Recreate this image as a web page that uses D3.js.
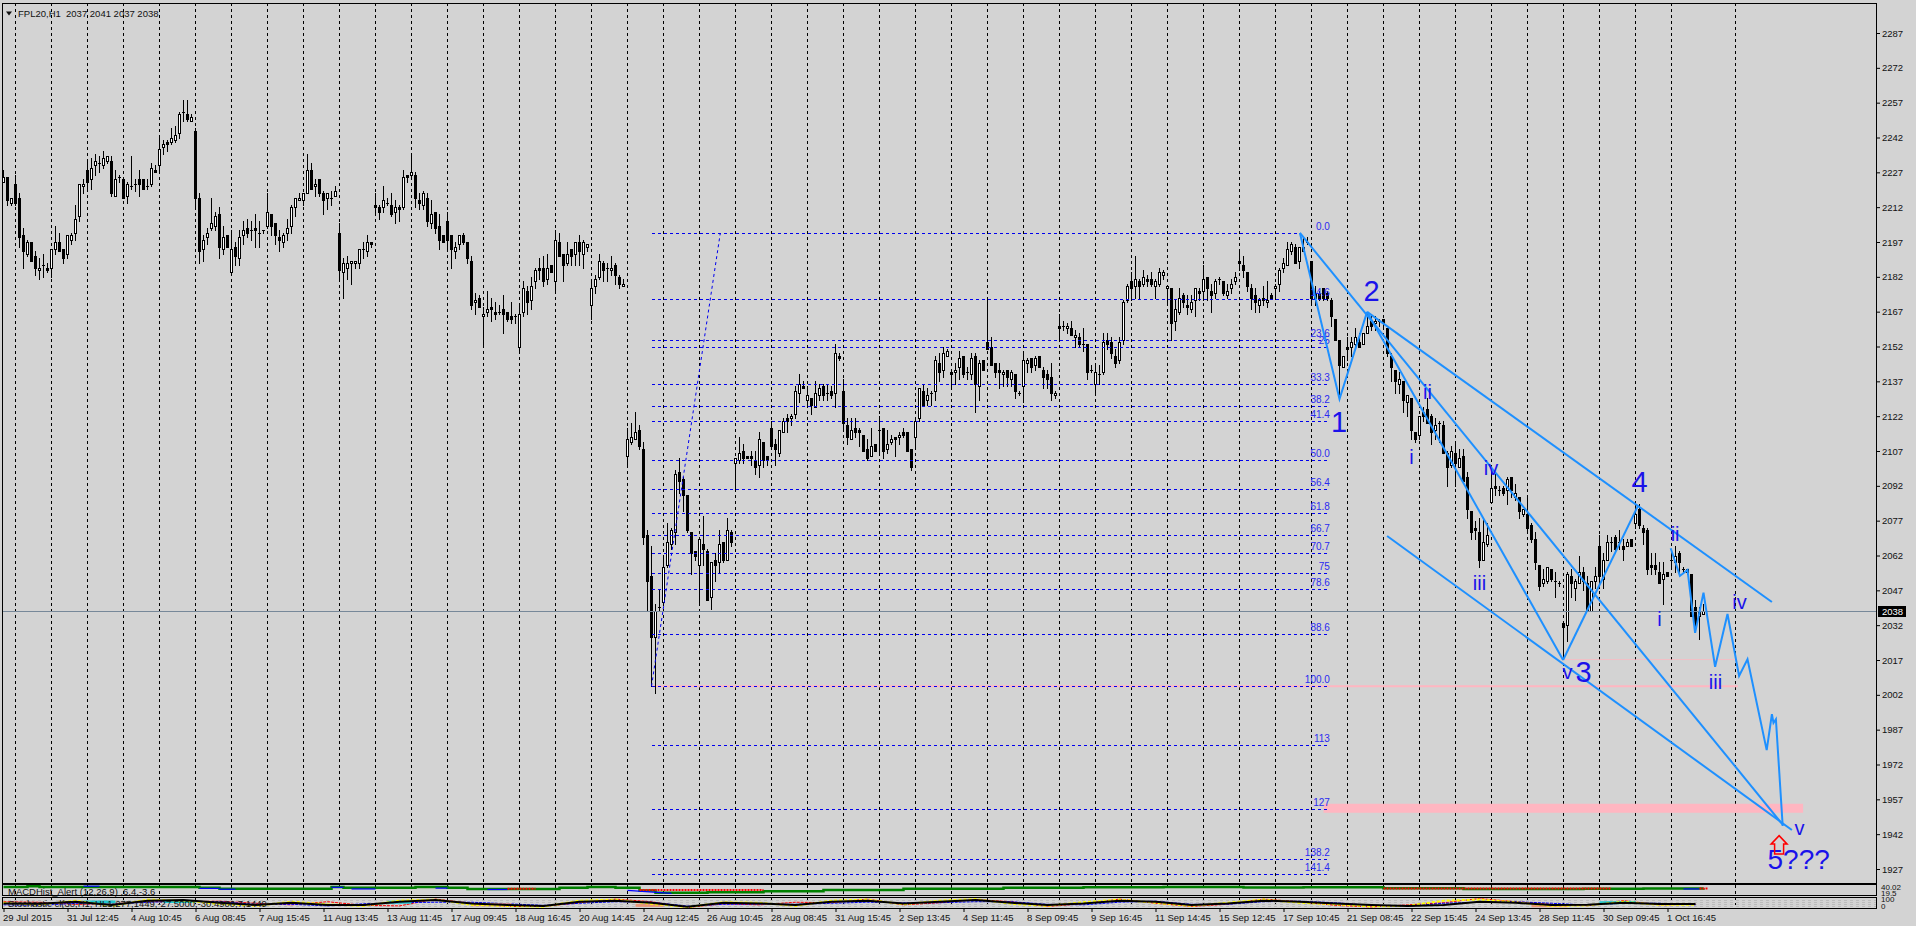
<!DOCTYPE html>
<html><head><meta charset="utf-8"><title>FPL20,H1</title>
<script src="https://cdn.jsdelivr.net/npm/d3@7"></script>
<style>
html,body{margin:0;padding:0;background:#d3d3d3;overflow:hidden}
svg{display:block}
text{font-family:"Liberation Sans",Arial,sans-serif}
</style></head><body><div id="chart"></div>
<script>
const opens=[2223,2225,2214,2222,2216,2200,2192,2197,2191,2185,
2187,2186,2186,2194,2197,2194,2192,2198,2201,2208,
2221,2228,2224,2230,2231,2230,2232,2232,2217,2225,
2224,2217,2221,2222,2224,2224,2221,2222,2228,2230,
2238,2240,2240,2241,2244,2253,2252,2249,2245,2216,
2194,2199,2203,2204,2209,2194,2200,2184,2195,2190,
2200,2203,2202,2203,2201,2202,2204,2209,2205,2199,
2197,2201,2204,2212,2215,2215,2218,2228,2221,2224,
2218,2216,2216,2217,2201,2184,2186,2188,2188,2188,
2194,2193,2197,2213,2212,2212,2214,2213,2210,2212,
2212,2226,2226,2226,2215,2213,2216,2205,2210,2204,
2200,2206,2200,2193,2196,2200,2197,2189,2171,2173,
2165,2167,2169,2167,2167,2168,2167,2165,2165,2152,
2167,2176,2172,2180,2186,2186,2181,2187,2180,2197,
2192,2188,2194,2192,2197,2192,2195,2170,2178,2182,
2188,2186,2185,2187,2182,2178,2105,2111,2112,2116,
2108,2071,2053,2027,2040,2042,2058,2067,2072,2098,
2095,2088,2072,2064,2058,2067,2064,2044,2060,2059,
2068,2060,2072,2102,2103,2107,2105,2105,2103,2101,
2111,2105,2117,2110,2106,2115,2121,2121,2123,2132,
2135,2129,2130,2126,2131,2135,2132,2133,2132,2148,
2133,2118,2112,2117,2116,2114,2108,2105,2110,2116,
2117,2108,2111,2113,2113,2115,2115,2108,2113,2121,
2133,2129,2132,2133,2145,2142,2148,2141,2141,2143,
2148,2141,2140,2148,2135,2146,2154,2152,2145,2142,
2140,2142,2138,2140,2132,2135,2145,2147,2144,2148,
2142,2140,2139,2131,2161,2161,2160,2160,2156,2156,
2153,2153,2142,2136,2140,2141,2155,2154,2148,2146,
2155,2172,2180,2178,2180,2179,2181,2181,2178,2179,
2183,2177,2177,2163,2167,2174,2170,2168,2172,2176,
2176,2182,2176,2175,2181,2180,2174,2177,2180,2189,
2187,2184,2177,2174,2170,2173,2171,2174,2177,2179,
2186,2187,2193,2195,2189,2193,2197,2189,2175,2175,
2177,2175,2172,2164,2155,2143,2152,2152,2153,2154,
2153,2158,2163,2162,2163,2164,2160,2148,2142,2136,
2137,2128,2130,2115,2114,2124,2125,2122,2116,2119,
2118,2106,2101,2106,2100,2105,2096,2081,2074,2072,
2060,2067,2085,2092,2090,2091,2090,2096,2087,2087,
2080,2080,2075,2069,2058,2050,2051,2056,2051,2050,
2033,2032,2053,2048,2050,2055,2050,2038,2051,2066,
2052,2060,2068,2070,2068,2066,2066,2069,2076,2082,
2074,2073,2058,2058,2055,2052,2055,2060,2059,2063,
2056,2056,2054,2040,2036,2037];
const highs=[2228,2225,2216,2226,2218,2203,2198,2197,2193,2190,
2192,2188,2194,2204,2201,2194,2200,2201,2213,2222,
2224,2232,2233,2235,2234,2236,2234,2234,2228,2226,
2224,2223,2234,2224,2228,2224,2224,2231,2230,2243,
2241,2241,2246,2247,2253,2258,2258,2252,2246,2218,
2200,2203,2216,2210,2212,2204,2200,2202,2197,2202,
2206,2207,2206,2209,2206,2202,2218,2209,2205,2202,
2201,2207,2213,2216,2218,2218,2235,2231,2224,2224,
2219,2218,2219,2221,2205,2190,2191,2189,2189,2194,
2197,2200,2197,2218,2213,2221,2216,2218,2215,2213,
2228,2226,2235,2227,2218,2219,2218,2215,2210,2209,
2200,2210,2200,2197,2200,2201,2197,2191,2175,2174,
2169,2176,2173,2171,2170,2174,2167,2171,2166,2170,
2180,2178,2182,2186,2190,2191,2192,2187,2202,2201,
2192,2197,2194,2197,2200,2198,2196,2181,2183,2192,
2189,2188,2191,2188,2183,2181,2117,2119,2124,2118,
2111,2073,2066,2041,2047,2061,2076,2074,2099,2104,
2096,2088,2072,2064,2069,2079,2065,2059,2063,2073,
2068,2078,2073,2104,2113,2110,2105,2107,2107,2115,
2111,2105,2120,2112,2116,2121,2123,2123,2135,2140,
2137,2135,2130,2137,2136,2136,2136,2135,2153,2149,
2138,2121,2121,2121,2117,2114,2112,2117,2110,2122,
2117,2116,2114,2113,2115,2117,2115,2108,2121,2134,
2136,2134,2133,2148,2149,2152,2151,2141,2145,2150,
2148,2143,2149,2149,2146,2146,2172,2156,2145,2145,
2142,2142,2142,2140,2133,2150,2147,2147,2148,2148,
2143,2142,2145,2133,2166,2163,2162,2163,2159,2158,
2160,2153,2144,2145,2144,2158,2158,2156,2151,2156,
2172,2179,2184,2191,2181,2185,2183,2184,2181,2186,
2185,2178,2177,2172,2177,2175,2174,2174,2177,2177,
2187,2182,2179,2181,2182,2180,2179,2181,2184,2194,
2191,2184,2179,2177,2173,2178,2180,2175,2179,2186,
2190,2197,2197,2196,2195,2199,2199,2189,2178,2176,
2177,2176,2173,2164,2155,2148,2156,2156,2160,2158,
2158,2166,2166,2165,2164,2164,2160,2149,2142,2141,
2137,2131,2130,2115,2122,2126,2130,2123,2121,2120,
2120,2107,2109,2111,2108,2108,2098,2081,2077,2078,
2078,2076,2097,2097,2092,2092,2096,2096,2093,2087,
2082,2088,2076,2072,2058,2056,2057,2056,2055,2051,
2033,2055,2056,2052,2062,2057,2053,2051,2057,2071,
2063,2071,2070,2071,2073,2069,2069,2069,2084,2084,
2075,2074,2063,2063,2059,2059,2055,2065,2066,2064,
2057,2056,2054,2043,2040,2041];
const lows=[2223,2213,2213,2213,2195,2186,2191,2189,2183,2181,
2182,2184,2182,2192,2193,2188,2190,2196,2198,2206,
2218,2219,2220,2226,2227,2229,2231,2217,2217,2223,
2216,2214,2220,2219,2217,2220,2220,2221,2227,2227,
2235,2236,2239,2240,2242,2249,2249,2249,2211,2188,
2189,2196,2202,2202,2190,2192,2195,2183,2187,2187,
2196,2199,2198,2195,2195,2201,2203,2200,2196,2193,
2195,2198,2201,2208,2215,2213,2218,2220,2217,2217,
2209,2211,2213,2217,2180,2173,2181,2179,2186,2186,
2190,2191,2195,2209,2207,2210,2213,2208,2205,2206,
2211,2223,2224,2212,2211,2211,2204,2203,2201,2194,
2197,2193,2186,2190,2194,2196,2188,2168,2166,2169,
2152,2165,2163,2164,2166,2158,2163,2162,2162,2150,
2165,2166,2168,2177,2181,2178,2179,2184,2175,2191,
2180,2187,2187,2187,2187,2186,2193,2164,2175,2181,
2180,2180,2183,2179,2177,2178,2100,2110,2112,2108,
2067,2038,2006,2003,2038,2041,2057,2065,2067,2089,
2081,2072,2054,2060,2041,2058,2043,2039,2051,2055,
2059,2060,2066,2090,2102,2102,2104,2101,2097,2096,
2100,2101,2108,2101,2105,2115,2115,2118,2121,2128,
2134,2126,2123,2126,2129,2129,2129,2130,2126,2146,
2116,2110,2112,2113,2109,2107,2103,2105,2107,2106,
2104,2106,2110,2105,2110,2113,2107,2099,2108,2120,
2127,2127,2127,2129,2137,2139,2148,2134,2136,2138,
2139,2138,2138,2124,2129,2142,2151,2144,2139,2134,
2135,2135,2135,2130,2131,2128,2141,2141,2142,2143,
2134,2134,2129,2130,2155,2159,2158,2157,2152,2152,
2150,2138,2141,2131,2136,2140,2151,2147,2143,2145,
2153,2171,2172,2173,2173,2178,2178,2178,2173,2178,
2181,2170,2155,2159,2166,2169,2166,2167,2165,2172,
2172,2172,2167,2173,2179,2174,2173,2175,2179,2185,
2182,2176,2168,2167,2167,2170,2169,2173,2173,2176,
2184,2187,2192,2188,2186,2193,2196,2170,2170,2172,
2172,2172,2161,2155,2130,2143,2146,2148,2151,2152,
2153,2158,2159,2159,2161,2160,2148,2137,2132,2132,
2124,2122,2112,2111,2112,2120,2119,2110,2112,2111,
2106,2092,2100,2092,2100,2094,2078,2069,2069,2057,
2060,2066,2085,2088,2088,2088,2084,2087,2086,2078,
2079,2073,2068,2056,2047,2049,2050,2051,2044,2049,
2018,2025,2044,2043,2050,2047,2038,2038,2048,2048,
2048,2060,2064,2064,2065,2060,2066,2066,2074,2074,
2067,2054,2054,2054,2050,2041,2053,2056,2055,2054,
2055,2054,2036,2030,2026,2037];
const closes=[2225,2215,2216,2214,2199,2193,2197,2189,2186,2186,
2187,2185,2194,2197,2193,2190,2200,2200,2207,2222,
2222,2223,2229,2232,2231,2233,2234,2218,2224,2225,
2216,2222,2221,2222,2222,2220,2221,2229,2227,2237,
2239,2239,2242,2243,2252,2253,2250,2251,2216,2193,
2198,2201,2205,2208,2195,2199,2195,2194,2191,2199,
2202,2201,2202,2202,2201,2202,2210,2204,2200,2198,
2200,2203,2212,2216,2216,2218,2228,2220,2222,2218,
2215,2218,2216,2219,2185,2188,2188,2189,2189,2194,
2194,2197,2196,2212,2210,2215,2214,2209,2212,2211,
2225,2225,2227,2216,2214,2218,2206,2209,2203,2198,
2197,2198,2194,2195,2200,2197,2190,2170,2172,2169,
2166,2168,2168,2166,2167,2166,2164,2164,2165,2166,
2177,2171,2178,2185,2185,2180,2186,2184,2198,2191,
2187,2192,2191,2197,2193,2197,2196,2177,2181,2189,
2185,2186,2186,2183,2179,2179,2112,2113,2115,2109,
2070,2051,2027,2038,2040,2057,2068,2073,2097,2094,
2088,2073,2063,2062,2069,2065,2043,2059,2058,2067,
2060,2073,2068,2104,2106,2104,2104,2104,2100,2112,
2103,2103,2109,2108,2116,2120,2120,2122,2133,2136,
2134,2131,2127,2132,2134,2131,2132,2131,2149,2147,
2119,2113,2116,2115,2115,2107,2104,2109,2107,2116,
2107,2110,2112,2112,2114,2114,2107,2100,2120,2134,
2127,2131,2132,2146,2141,2149,2150,2140,2142,2147,
2140,2141,2147,2136,2145,2142,2151,2144,2141,2141,
2141,2139,2141,2133,2132,2146,2146,2143,2147,2143,
2139,2138,2132,2132,2160,2161,2161,2157,2157,2153,
2153,2141,2142,2141,2140,2154,2153,2149,2145,2154,
2171,2178,2177,2181,2178,2182,2180,2179,2180,2184,
2184,2178,2162,2168,2173,2171,2169,2171,2177,2175,
2181,2177,2174,2180,2181,2175,2176,2179,2182,2188,
2185,2178,2173,2171,2172,2172,2172,2173,2178,2185,
2188,2194,2196,2188,2195,2195,2197,2173,2173,2173,
2173,2173,2165,2155,2144,2148,2151,2154,2156,2152,
2158,2161,2161,2163,2163,2162,2149,2143,2137,2138,
2129,2131,2116,2112,2122,2122,2119,2115,2118,2119,
2106,2100,2107,2102,2104,2094,2082,2072,2073,2060,
2068,2071,2091,2091,2090,2089,2095,2090,2089,2081,
2082,2074,2069,2059,2049,2052,2057,2052,2051,2050,
2031,2054,2050,2051,2055,2051,2038,2051,2053,2053,
2060,2068,2068,2065,2068,2065,2068,2066,2080,2075,
2072,2056,2057,2056,2050,2054,2053,2060,2062,2059,
2056,2055,2036,2033,2038,2038];

const priceTicks=[2287,2272,2257,2242,2227,2212,2197,2182,2167,2152,2137,2122,2107,2092,2077,2062,2047,2032,2017,2002,1987,1972,1957,1942,1927];
const dateLabels=["29 Jul 2015","31 Jul 12:45","4 Aug 10:45","6 Aug 08:45","7 Aug 15:45","11 Aug 13:45","13 Aug 11:45","17 Aug 09:45","18 Aug 16:45","20 Aug 14:45","24 Aug 12:45","26 Aug 10:45","28 Aug 08:45","31 Aug 15:45","2 Sep 13:45","4 Sep 11:45","8 Sep 09:45","9 Sep 16:45","11 Sep 14:45","15 Sep 12:45","17 Sep 10:45","21 Sep 08:45","22 Sep 15:45","24 Sep 13:45","28 Sep 11:45","30 Sep 09:45","1 Oct 16:45"];
const dateBars=dateLabels.map((_,i)=>i*16);
const gridBars=[3,12,21,30,39,48,57,66,75,84,93,102,111,120,129,138,147,156,165,174,183,192,201,210,219,228,237,246,255,264,273,282,291,300,309,318,327,336,345,354,363,372,381,390,399,408,417,433];

const fiboLabels=["0.0","14.6","23.6","25","33.3","38.2","41.4","50.0","56.4","61.8","66.7","70.7","75","78.6","88.6","100.0","113","127","138.2","141.4"];
const fiboPrices=[2200.8,2172.3,2154.8,2152,2135.8,2126.3,2120,2103.3,2090.8,2080.2,2070.7,2062.9,2054.5,2047.4,2028,2005.7,1980.3,1953,1931.2,1925];
const fiboStartBar=162, fiboEndBar=331.6, fiboTopEndBar=324;
const fiboDiagonal=[[162,2005.7],[179.2,2200.8]];

const pinkLevel100=[[162,2005.7],[433.6,2005.7]];
const pinkThin=[[390,2017.2],[433,2017.2]];
const pinkBand=[[330,1953.2],[449.9,1953.2]];

const trendA=[[340.9,2166.9],[442.1,2042]];
const trendB=[[324.1,2200.9],[444.9,1945.9]];
const trendC=[[340.9,2166.9],[389.9,2017]];
const trendD=[[345.9,2070.4],[447.1,1943.8]];
const wave12=[[324.1,2200.9],[334,2129.4],[340.9,2166.9]];
const wave34=[[389.9,2017],[408.7,2083.7]];
const projection=[[416.8,2065.1],[419.1,2053.2],[421,2055.8],[422.9,2028.7],[425,2046],[427.9,2014.1],[431,2036.8],[433.9,2010.1],[436,2017.3],[440.8,1978.2],[442.1,1993.7],[442.5,1989.9],[443.1,1991.5],[444.8,1945.5]];

const waveTexts=["1","2","3","4","v","i","ii","iii","iv","i","ii","iii","iv","v","5???"];
const waveBars=[333.9,342,395,409,391,352,356,369,371.9,414,417.9,428,434,449,448.8];
const wavePrices=[2119.6,2176,2011.8,2093.5,2012,2104.3,2132.5,2050,2099.5,2034.6,2071.3,2007.6,2042.1,1944.5,1931.2];
const waveSizes=[29,29,29,29,20,20,20,20,20,20,20,20,20,20,28];
const arrowBar=443.9, arrowPrice=1937.5;

const lastPrice=2038;
const headerText="FPL20,H1  2037 2041 2037 2038";

const macdStarts=[0,6,9,49,54,82,85,103,111,116,126,139,146,153,159,163,176,190,205,225,250,270,290,310,325,345,365,395,410,425];
const macdLevels=[9,12,9,6,3,9,6,9,6,2,2,6,9,6,-4,-12,-10,-6,-2,3,6,8,9,7,8,5,2,3,4,5];
const macdRed=[[[126,3],[133,3]],[[159,-2],[190,-2]],[[345,4],[402,4]],[[424,4],[426,4]]];
const macdBlue=[[[20,12],[24,12]],[[49,4],[54,4]],[[54,1],[58,1]],[[82,8],[85,8]],[[87,2],[93,2]],[[108,5],[111,5]],[[121,0],[126,0]],[[156,-3],[167,-14]],[[420,2],[424,2]]];
const stochBarsStep=[...Array(48).keys()].map(k=>k*9);
const stochBlack=[44,40,60,28,70,76,50,28,50,28,28,60,76,44,28,19,60,70,50,12,50,44,28,60,70,44,60,76,50,28,44,70,60,28,44,70,60,44,28,19,28,60,50,28,30,50,38,38];
const stochYellow=[50,30,70,20,80,70,40,20,60,35,20,70,80,30,20,12,70,80,40,8,55,50,20,70,80,35,70,85,40,20,55,80,50,20,50,80,50,35,15,20,70,80,55,20,25,60,30,30];
const stochRed=[60,55,35,40,60,60,65,45,30,60,25,20,85,45,15,15,50,85,60,5,40,30,55,50,85,30,50,80,60,15,40,85,45,15,35,85,60,25,10,30,50,90,60,35,22,70,30,35];
const stochBlue=[30,25,45,35,55,65,60,35,35,20,40,50,55,55,40,25,45,60,55,18,35,38,35,45,55,50,50,60,60,35,30,55,65,35,35,60,65,50,25,18,45,55,60,45,28,45,45,30];
const stochCyan=[[[20,58],[28,58]],[[40,62],[48,62]],[[96,55],[102,55]],[[399,50],[408,52]]];
const stochSalmon=[[[117,30],[127,30]],[[158,25],[165,25]],[[382,22],[391,22]]];
const stochGuides=[80,60,40,20];

const W=1916,H=926;
const x=d3.scaleLinear().domain([0,1]).range([3.5,7.5]);
const y=d3.scaleLinear().domain([2107,1927]).range([451,869]);
const yMacd=d3.scaleLinear().domain([-20,20]).range([895,884]);
const yStoch=d3.scaleLinear().domain([0,100]).range([908,897.5]);
const INK="#000",GREY="#778899",FIB="#0000ee",TREND="#1e90ff",WAVE="#1a12ea",PINK="#ffb6c1";

const svg=d3.select("#chart").append("svg").attr("width",W).attr("height",H).attr("viewBox",`0 0 ${W} ${H}`);
svg.append("rect").attr("width",W).attr("height",H).attr("fill","#d3d3d3");
svg.append("defs").append("clipPath").attr("id","plot").append("rect").attr("x",2).attr("y",3).attr("width",1874).attr("height",880);
const crisp=g=>g.attr("shape-rendering","crispEdges");
const line=(yf=y)=>d3.line().x(d=>x(d[0])).y(d=>yf(d[1]));

// grid
crisp(svg.append("g")).selectAll("line").data(gridBars).join("line")
 .attr("x1",d=>x(d)).attr("x2",d=>x(d)).attr("y1",3).attr("y2",905)
 .attr("stroke",INK).attr("stroke-width",1).attr("stroke-dasharray","3,3");

const plot=svg.append("g").attr("clip-path","url(#plot)");
// pink zones
plot.append("path").attr("d",line()(pinkBand)).attr("stroke",PINK).attr("stroke-width",9).attr("fill","none");
plot.append("path").attr("d",line()(pinkLevel100)).attr("stroke",PINK).attr("stroke-width",2).attr("fill","none");
plot.append("path").attr("d",line()(pinkThin)).attr("stroke",PINK).attr("stroke-width",1).attr("fill","none").attr("opacity",.7);

// candles
const candles=opens.map((o,i)=>({i,o,h:highs[i],l:lows[i],c:closes[i]}));
const cg=crisp(plot.append("g"));
const px=v=>Math.round(y(v));
cg.selectAll("line.wick").data(candles).join("line").attr("class","wick")
 .attr("x1",d=>x(d.i)).attr("x2",d=>x(d.i)).attr("y1",d=>px(d.h)).attr("y2",d=>px(d.l)+1)
 .attr("stroke",INK).attr("stroke-width",1);
cg.selectAll("rect.bear").data(candles.filter(d=>d.c<d.o)).join("rect").attr("class","bear")
 .attr("x",d=>x(d.i)-1.5).attr("width",3).attr("y",d=>px(d.o)).attr("height",d=>Math.max(1,px(d.c)-px(d.o)+1)).attr("fill",INK);
cg.selectAll("rect.bull").data(candles.filter(d=>d.c>d.o)).join("rect").attr("class","bull")
 .attr("x",d=>x(d.i)-1).attr("width",2).attr("y",d=>px(d.c)+.5).attr("height",d=>Math.max(1,px(d.o)-px(d.c)))
 .attr("fill","#fff").attr("stroke",INK).attr("stroke-width",1);
cg.selectAll("line.doji").data(candles.filter(d=>d.c===d.o)).join("line").attr("class","doji")
 .attr("x1",d=>x(d.i)-1.5).attr("x2",d=>x(d.i)+1.5).attr("y1",d=>px(d.o)+.5).attr("y2",d=>px(d.o)+.5)
 .attr("stroke",INK).attr("stroke-width",1);

// price line
crisp(plot.append("line")).attr("x1",2).attr("x2",1876).attr("y1",Math.round(y(lastPrice))+.5).attr("y2",Math.round(y(lastPrice))+.5).attr("stroke",GREY).attr("stroke-width",1);

// fibo
const fg=plot.append("g");
crisp(fg.append("g")).selectAll("line").data(fiboPrices).join("line")
 .attr("x1",x(fiboStartBar)).attr("x2",(d,i)=>x(i===0?fiboTopEndBar:fiboEndBar))
 .attr("y1",d=>Math.round(y(d))+.5).attr("y2",d=>Math.round(y(d))+.5)
 .attr("stroke",FIB).attr("stroke-width",1).attr("stroke-dasharray","3,3");
fg.append("g").selectAll("text").data(fiboLabels).join("text")
 .attr("x",x(fiboEndBar)).attr("y",(d,i)=>y(fiboPrices[i])-3).attr("text-anchor","end")
 .attr("font-size",10).attr("fill","#2a2af0").text(d=>d);
fg.append("path").attr("d",line()(fiboDiagonal)).attr("stroke",FIB).attr("stroke-width",1).attr("stroke-dasharray","3,3").attr("fill","none");

// trend lines and waves
const tg=plot.append("g").attr("fill","none").attr("stroke",TREND).attr("stroke-width",2).attr("stroke-linejoin","miter");
[trendA,trendB,trendC,trendD,wave12,wave34,projection].forEach(s=>tg.append("path").attr("d",line()(s)));
plot.append("g").selectAll("text").data(waveTexts).join("text")
 .attr("x",(d,i)=>x(waveBars[i])).attr("y",(d,i)=>y(wavePrices[i])).attr("text-anchor","middle").attr("dominant-baseline","central")
 .attr("font-size",(d,i)=>waveSizes[i]).attr("fill",WAVE).text(d=>d);
const ax=x(arrowBar), ay=y(arrowPrice);
plot.append("path").attr("fill","none").attr("stroke","#ff0000").attr("stroke-width",1.5)
 .attr("d",`M${ax},${ay-9} l8,8.5 h-3.5 v10 h-9 v-10 h-3.5 z`);

// MACD panel
const mp=svg.append("g");
const macdSeries=macdStarts.map((b,i)=>[b,macdLevels[i]]);
mp.append("path").attr("d",d3.line().x(d=>x(d[0])).y(d=>yMacd(d[1])).curve(d3.curveStepAfter)(macdSeries)).attr("fill","none").attr("stroke","#008000").attr("stroke-width",2.5);
macdBlue.forEach(s=>mp.append("path").attr("d",line(yMacd)(s)).attr("stroke","#0000ff").attr("stroke-width",1.2).attr("fill","none"));
macdRed.forEach(s=>mp.append("path").attr("d",line(yMacd)(s)).attr("stroke","#ff0000").attr("stroke-width",2).attr("stroke-dasharray","2,1").attr("fill","none"));
mp.append("text").attr("x",8).attr("y",895).attr("font-size",9.5).attr("fill","#111").text("MACDHist_Alert (12,26,9) ,6.4,-3.6");

// Stochastic panel
const sp=svg.append("g");
crisp(sp.append("g")).selectAll("line").data(stochGuides).join("line")
 .attr("x1",2).attr("x2",1876).attr("y1",d=>Math.round(yStoch(d))+.5).attr("y2",d=>Math.round(yStoch(d))+.5)
 .attr("stroke","#bcbcbc").attr("stroke-dasharray","3,3");
const sl=(vals,col,w,dash)=>sp.append("path").attr("d",line(yStoch)(stochBarsStep.map((b,i)=>[b,vals[i]])))
 .attr("fill","none").attr("stroke",col).attr("stroke-width",w).attr("stroke-dasharray",dash||null);
sl(stochRed,"#ff0000",1,"3,1");
sl(stochBlue,"#0000ff",1,"3,1");
stochCyan.forEach(s=>sp.append("path").attr("d",line(yStoch)(s)).attr("stroke","#20c8d0").attr("stroke-width",3).attr("fill","none"));
stochSalmon.forEach(s=>sp.append("path").attr("d",line(yStoch)(s)).attr("stroke","#e9967a").attr("stroke-width",3).attr("fill","none"));
sl(stochYellow,"#ffff00",2,"3,2");
sl(stochBlack,"#000",2);
sp.append("text").attr("x",8).attr("y",906.5).attr("font-size",9.5).attr("fill","#111").text("Stochastic cl(30,H1, HL1,277,1449,-27.5000,-30.4900,7,1449");

// frames
crisp(svg.append("g")).selectAll("rect").data([[3,883],[884.5,895],[897,908]]).join("rect")
 .attr("x",2).attr("y",d=>d[0]).attr("width",1874).attr("height",d=>d[1]-d[0])
 .attr("fill","none").attr("stroke",INK).attr("stroke-width",1);

// axes
const yAxis=d3.axisRight(y).tickValues(priceTicks).tickSize(4).tickPadding(2).tickFormat(d3.format("d"));
const yG=svg.append("g").attr("transform","translate(1876,0)").call(yAxis);
yG.select(".domain").remove();
yG.selectAll("text").attr("font-size",9.5).attr("fill","#111");
yG.selectAll("line").attr("stroke",INK);
const xAxis=d3.axisBottom(x).tickValues(dateBars).tickSize(4).tickPadding(2).tickFormat((d,i)=>dateLabels[i]);
const xG=svg.append("g").attr("transform","translate(0,908)").call(xAxis);
xG.select(".domain").remove();
xG.selectAll("text").attr("font-size",9.5).attr("fill","#111").attr("text-anchor","start").attr("dx",-1);
xG.selectAll("line").attr("stroke",INK);
xG.attr("font-family",null); yG.attr("font-family",null);

// sub-panel scale labels
const subAxis=svg.append("g").attr("font-size",8).attr("fill","#111");
[["40.02",889.5],["19.5",895.5],["100",902],["0",908.5]].forEach(([t,b])=>
 subAxis.append("text").attr("x",1881).attr("y",b).text(t));

// current price box
const lp=y(lastPrice);
svg.append("rect").attr("x",1878).attr("y",Math.round(lp)-5).attr("width",28).attr("height",11).attr("fill","#000");
svg.append("text").attr("x",1882).attr("y",Math.round(lp)+4).attr("font-size",9.5).attr("fill","#fff").text(lastPrice);

// header
svg.append("path").attr("d","M6,11.5 h6 l-3,4 z").attr("fill","#111");
svg.append("text").attr("x",18).attr("y",16.5).attr("font-size",9.5).attr("fill","#111").attr("xml:space","preserve").text(headerText);
</script></body></html>
